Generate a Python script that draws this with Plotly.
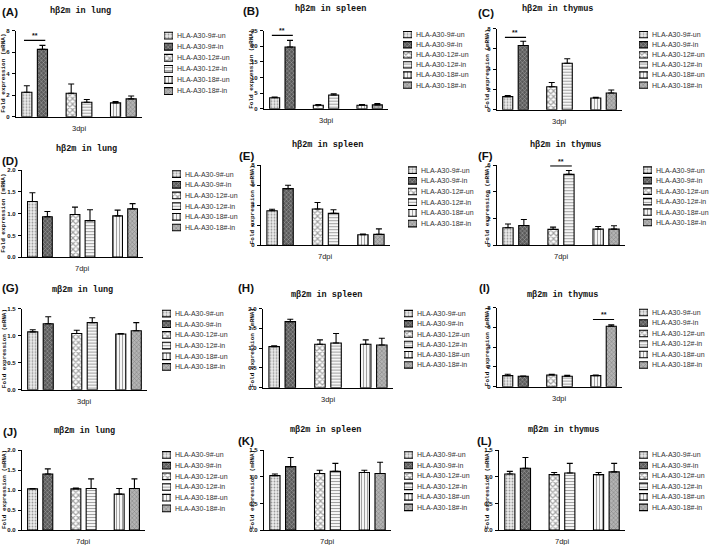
import plotly.graph_objects as go

W, H = 709, 545

# Dati: un pannello per lettera
PANNELLI = list("ABCDEFGHIJKL")
TITOLI = [
    "hβ2m in lung", "hβ2m in spleen", "hβ2m in thymus",
    "hβ2m in lung", "hβ2m in spleen", "hβ2m in thymus",
    "mβ2m in lung", "mβ2m in spleen", "mβ2m in thymus",
    "mβ2m in lung", "mβ2m in spleen", "mβ2m in thymus",
]
TEMPI = ["3dpi"] * 3 + ["7dpi"] * 3 + ["3dpi"] * 3 + ["7dpi"] * 3
GRUPPI = ["9#", "12#", "18#"]
SERIE = [
    "HLA-A30-9#-un", "HLA-A30-9#-in",
    "HLA-A30-12#-un", "HLA-A30-12#-in",
    "HLA-A30-18#-un", "HLA-A30-18#-in",
]

# ordine: 9#-un, 9#-in, 12#-un, 12#-in, 18#-un, 18#-in
MEDIE = [
    [2.27, 6.26, 2.18, 1.35, 1.29, 1.66],
    [3.56, 19.8, 1.15, 4.40, 1.15, 1.26],
    [1.30, 6.34, 2.28, 4.59, 1.17, 1.66],
    [1.28, 0.93, 0.98, 0.84, 0.95, 1.11],
    [3.45, 5.66, 3.62, 3.19, 1.05, 1.09],
    [1.31, 1.48, 1.19, 5.31, 1.21, 1.21],
    [1.07, 1.22, 1.04, 1.24, 1.03, 1.09],
    [1.04, 1.67, 1.10, 1.13, 1.10, 1.08],
    [1.12, 1.06, 1.19, 1.06, 1.12, 6.12],
    [1.03, 1.40, 1.03, 1.04, 0.90, 1.04],
    [1.02, 1.19, 1.06, 1.10, 1.08, 1.06],
    [1.05, 1.16, 1.04, 1.07, 1.04, 1.09],
]
ERRORI = [
    [0.61, 0.37, 0.86, 0.25, 0.11, 0.27],
    [0.21, 2.10, 0.21, 0.40, 0.21, 0.41],
    [0.10, 0.42, 0.42, 0.45, 0.07, 0.29],
    [0.20, 0.12, 0.17, 0.25, 0.13, 0.12],
    [0.15, 0.34, 0.66, 0.36, 0.07, 0.55],
    [0.29, 0.45, 0.17, 0.29, 0.20, 0.25],
    [0.04, 0.13, 0.06, 0.09, 0.01, 0.15],
    [0.02, 0.06, 0.11, 0.24, 0.11, 0.17],
    [0.14, 0.03, 0.07, 0.10, 0.07, 0.13],
    [0.01, 0.13, 0.02, 0.24, 0.14, 0.24],
    [0.03, 0.17, 0.06, 0.15, 0.04, 0.21],
    [0.05, 0.20, 0.04, 0.18, 0.04, 0.16],
]
Y_MAX = [8, 25, 8, 2, 8, 6, 1.5, 2, 8, 2, 1.5, 1.5]
Y_PASSO = [2, 5, 2, 0.5, 2, 2, 0.5, 0.5, 2, 0.5, 0.5, 0.5]
# pannello -> (indice gruppo, altezza della barra di significatività)
SIGNIFICATIVITA = {"A": (0, 7.1), "B": (0, 23.5), "C": (0, 7.15), "F": (1, 5.95), "I": (2, 6.8)}

# Stile dei riempimenti (uno per serie)
STILI = [
    dict(shape=".", bg="#ececec", fg="#8c8c8c", size=3, solidity=0.3),
    dict(shape="x", bg="#5a5a5a", fg="#2a2a2a", size=3, solidity=0.3),
    dict(shape="x", bg="#ffffff", fg="#111111", size=4, solidity=0.5),
    dict(shape="-", bg="#ffffff", fg="#8a8a8a", size=3, solidity=0.4),
    dict(shape="|", bg="#ffffff", fg="#8a8a8a", size=3, solidity=0.4),
    dict(shape="x", bg="#b4b4b4", fg="#6a6a6a", size=3, solidity=0.3),
]

# Posizioni in pixel: sinistra, destra, alto, basso dell'area dati,
# x riquadri legenda, y prima/ultima voce, etichetta (x, y), titolo (x, y)
BOX = [
    (16, 142, 28, 115, 164, 33, 89, 10, 9, 80, 8),
    (264, 388, 28, 107, 403, 32, 83, 251, 8, 330, 6),
    (497, 622, 26, 108, 639, 32, 83, 486, 10, 557, 6),
    (22, 143, 169, 257, 172, 173, 227, 10, 160, 86, 148),
    (261, 390, 164, 245, 408, 169, 223, 247, 155, 327, 144),
    (497, 625, 164, 245, 643, 169, 222, 485, 155, 565, 144),
    (22, 147, 309, 391, 162, 314, 368, 10, 288, 82, 290),
    (263, 393, 309, 389, 404, 314, 366, 246, 288, 326, 295),
    (497, 622, 308, 388, 639, 313, 366, 484, 288, 562, 295),
    (22, 145, 452, 533, 162, 457, 511, 10, 434, 84, 433),
    (264, 391, 452, 533, 404, 457, 510, 246, 443, 325, 432),
    (499, 625, 452, 533, 639, 457, 510, 484, 443, 563, 432),
]
X_TITOLO_Y = [4, 252, 487]

MONO = "Liberation Mono"
SANS = "Liberation Sans"


def ax_id(n):
    return "" if n == 1 else str(n)


def marker_serie(indici):
    """Marker con pattern per le serie indicate."""
    return dict(
        color=[STILI[j]["bg"] for j in indici],
        line=dict(color="black", width=1.1),
        pattern=dict(
            shape=[STILI[j]["shape"] for j in indici],
            bgcolor=[STILI[j]["bg"] for j in indici],
            fgcolor=[STILI[j]["fg"] for j in indici],
            size=[STILI[j]["size"] for j in indici],
            solidity=[STILI[j]["solidity"] for j in indici],
        ),
    )


def testo(text, x, y, size, family, weight="normal", **extra):
    """Annotazione centrata in coordinate pixel della pagina."""
    return dict(text=text, x=x / W, y=1 - y / H, xref="paper", yref="paper",
                xanchor="center", yanchor="middle", showarrow=False,
                font=dict(family=family, size=size, color="#111", weight=weight), **extra)


fig = go.Figure()
assi = {}
annotazioni = []
forme = []

for i, pid in enumerate(PANNELLI):
    l, r, t, b, lx, ly0, ly1, px, py, tx, ty = BOX[i]
    nd, nl = 2 * i + 1, 2 * i + 2
    xd, yd = f"x{ax_id(nd)}", f"y{ax_id(nd)}"
    xl, yl = f"x{ax_id(nl)}", f"y{ax_id(nl)}"

    # Barre: serie "un" e serie "in" raggruppate per linea cellulare
    for indici in [(0, 2, 4), (1, 3, 5)]:
        fig.add_trace(go.Bar(
            x=GRUPPI,
            y=[MEDIE[i][j] for j in indici],
            marker=marker_serie(indici),
            error_y=dict(
                type="data", symmetric=False,
                array=[ERRORI[i][j] for j in indici],
                arrayminus=[0, 0, 0],
                color="black", thickness=1.1, width=3,
            ),
            xaxis=xd, yaxis=yd, showlegend=False, hoverinfo="skip",
        ))

    # Legenda disegnata come barre orizzontali in un asse dedicato
    fig.add_trace(go.Bar(
        y=SERIE, x=[1] * len(SERIE), orientation="h", width=0.62,
        marker=marker_serie(range(6)),
        xaxis=xl, yaxis=yl, showlegend=False, hoverinfo="skip",
    ))

    assi[f"xaxis{ax_id(nd)}"] = dict(
        domain=[l / W, r / W], anchor=yd, type="category",
        categoryorder="array", categoryarray=GRUPPI,
        range=[-0.42, 2.42], showticklabels=False, ticks="",
        showline=True, linecolor="black", linewidth=1.3,
        showgrid=False, zeroline=False,
    )
    assi[f"yaxis{ax_id(nd)}"] = dict(
        domain=[1 - b / H, 1 - t / H], anchor=xd,
        range=[0, Y_MAX[i]], dtick=Y_PASSO[i],
        tickformat=".1f" if Y_PASSO[i] < 1 else "d",
        ticks="outside", ticklen=3, tickwidth=1.2, tickcolor="black",
        ticklabelstandoff=1,
        tickfont=dict(family=SANS, size=6, color="#111", weight="bold"),
        showline=True, linecolor="black", linewidth=1.3,
        showgrid=False, zeroline=False,
    )

    step = (ly1 - ly0) / 5
    assi[f"xaxis{ax_id(nl)}"] = dict(
        domain=[lx / W, (lx + 9) / W], anchor=yl, range=[0, 1], visible=False,
    )
    assi[f"yaxis{ax_id(nl)}"] = dict(
        domain=[1 - (ly1 + step / 2) / H, 1 - (ly0 - step / 2) / H],
        anchor=xl, side="right", type="category",
        categoryorder="array", categoryarray=SERIE, autorange="reversed",
        showline=False, showgrid=False, zeroline=False, ticks="",
        ticklabelstandoff=3,
        tickfont=dict(family=SANS, size=7, color="#333"),
    )

    # Etichetta del pannello, titolo, etichette degli assi
    annotazioni += [
        testo(f"({pid})", px, py, 11.5, SANS, "bold"),
        testo(TITOLI[i], tx, ty, 8.5, MONO, "bold"),
        dict(text=TEMPI[i], x=0.5, y=0, xref=f"{xd} domain", yref=f"{yd} domain",
             xanchor="center", yanchor="top", yshift=-5, showarrow=False,
             font=dict(family=SANS, size=7.5, color="#222")),
        dict(text="Fold expression (mRNA)", textangle=-90,
             x=X_TITOLO_Y[i % 3] / W, y=0.5, xref="paper", yref=f"{yd} domain",
             xanchor="center", yanchor="middle", showarrow=False,
             font=dict(family=MONO, size=6, color="#111", weight="bold")),
    ]

    if pid in SIGNIFICATIVITA:
        g, h = SIGNIFICATIVITA[pid]
        forme.append(dict(type="line", xref=xd, yref=yd, x0=g - 0.24, x1=g + 0.24,
                          y0=h, y1=h, line=dict(color="black", width=1.2)))
        annotazioni.append(dict(text="**", x=g, y=h, xref=xd, yref=yd,
                                xanchor="center", yanchor="bottom",
                                showarrow=False, yshift=-1,
                                font=dict(family=SANS, size=7, color="#111", weight="bold")))

fig.update_layout(
    width=W, height=H,
    margin=dict(l=0, r=0, t=0, b=0),
    paper_bgcolor="white", plot_bgcolor="white",
    barmode="group", bargap=0.296, bargroupgap=0.35,
    showlegend=False,
    annotations=annotazioni,
    shapes=forme,
    **assi,
)

# la pagina HTML ha un margine di default sul body: lo azzero
fig.write_html(
    "out.html",
    config={"displayModeBar": False},
    post_script="document.body.style.margin='0';",
)
